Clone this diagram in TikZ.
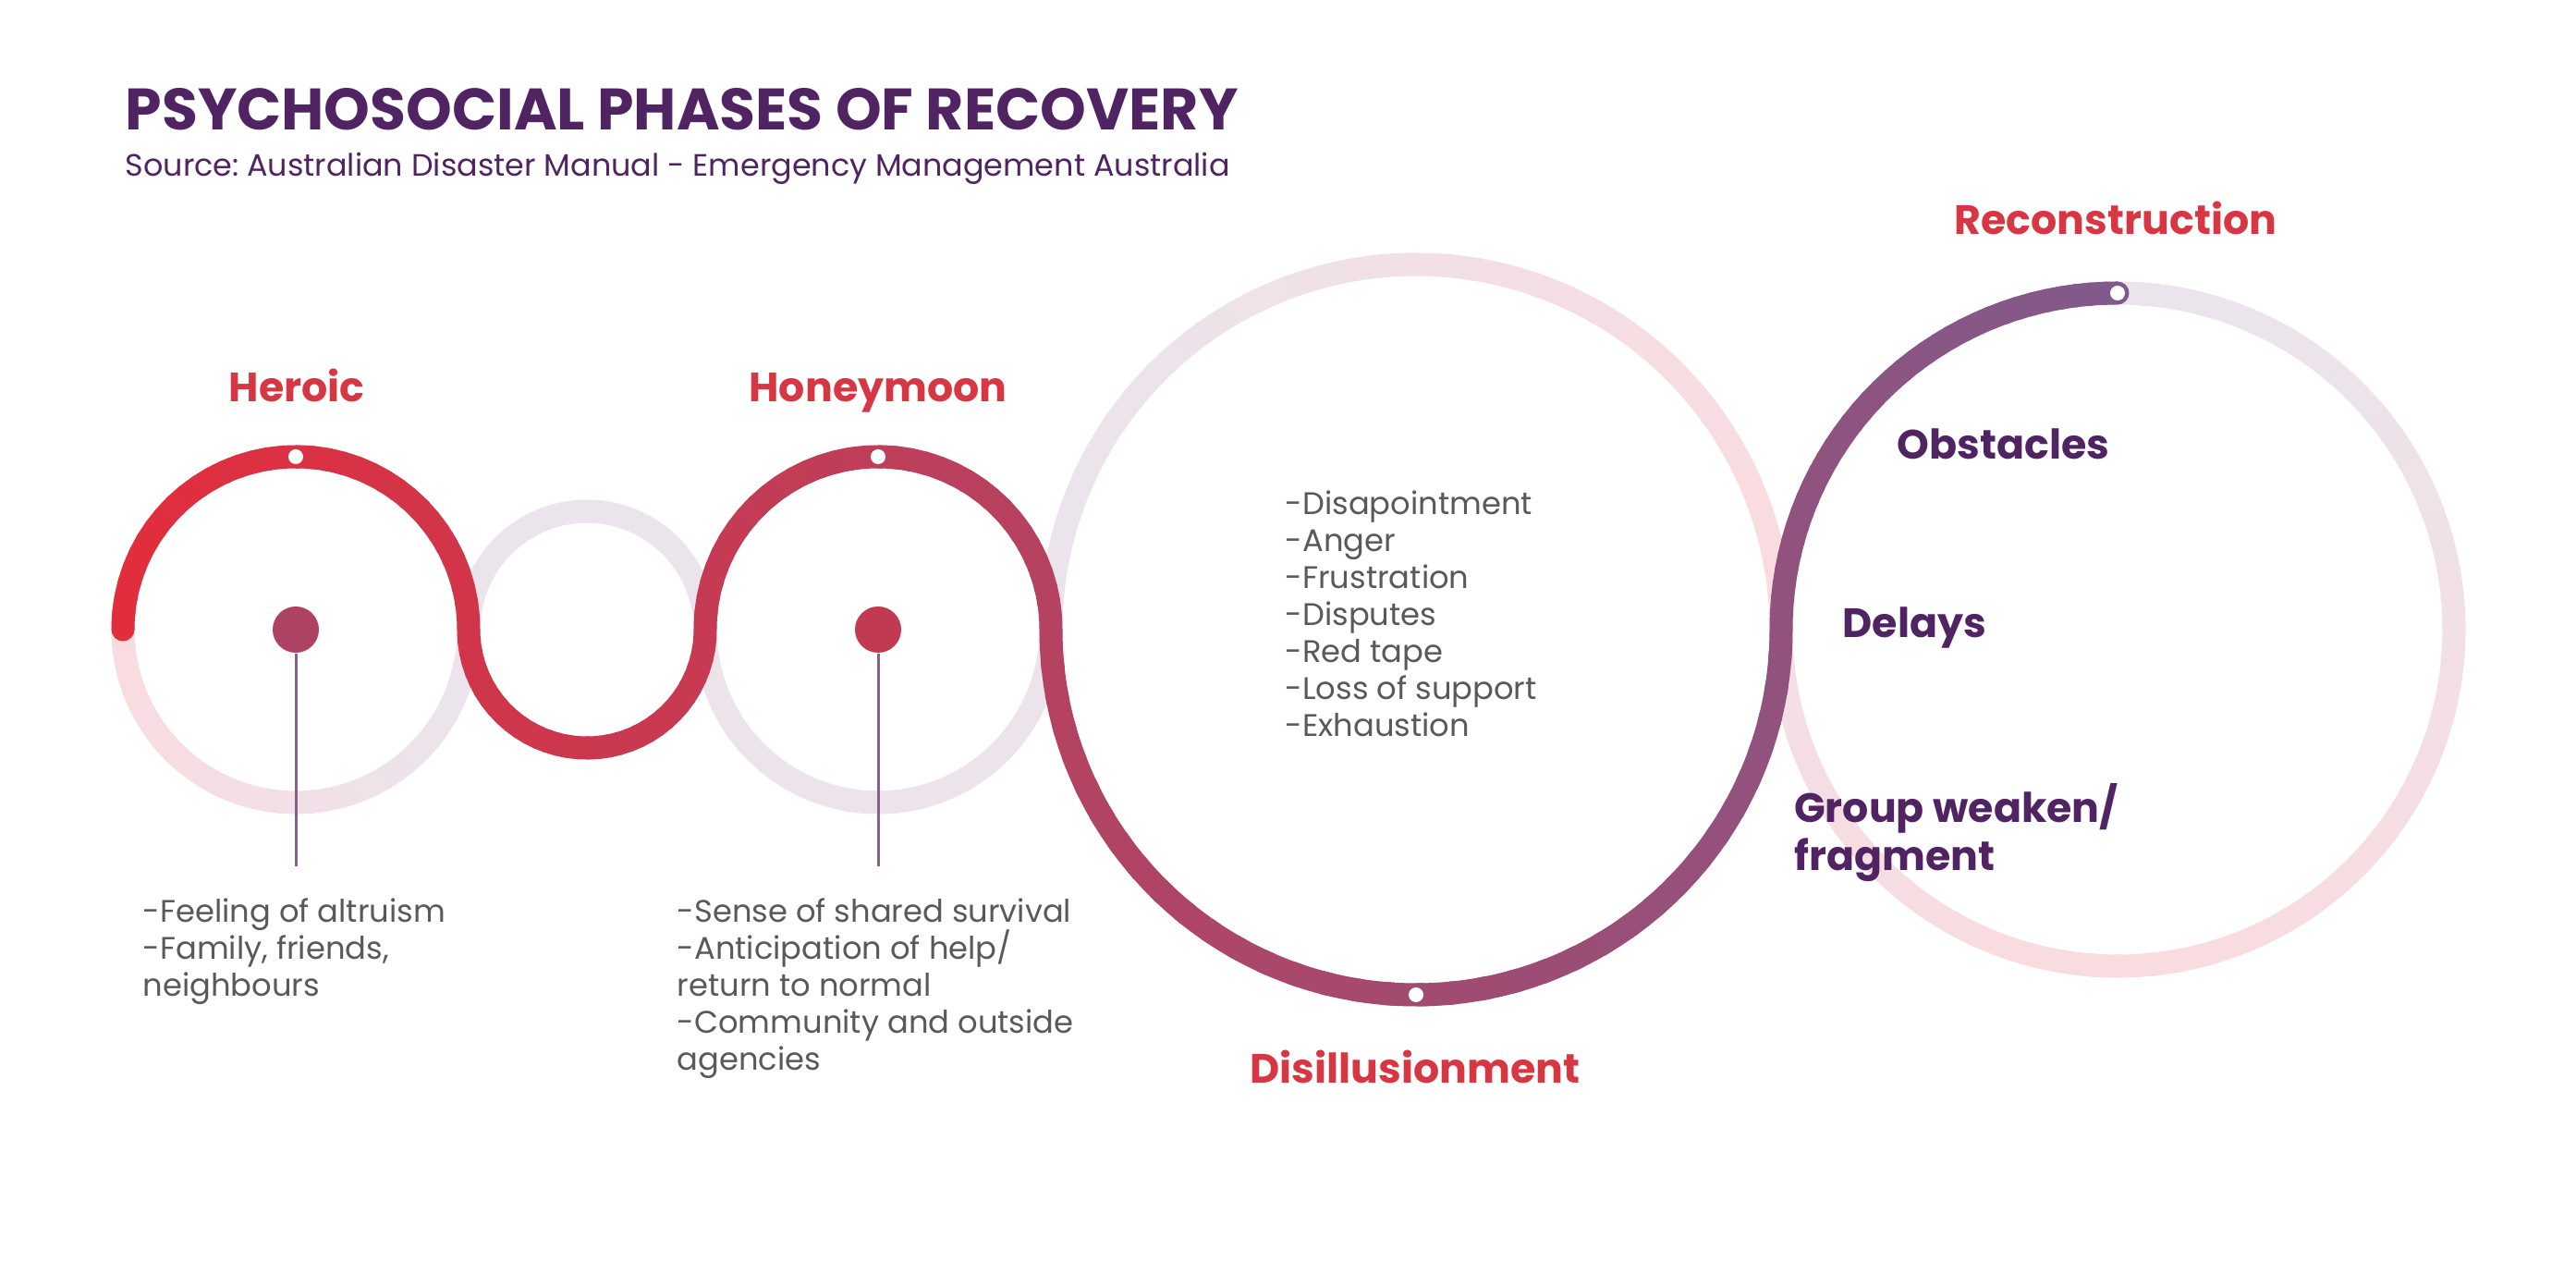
\documentclass[tikz,border=0pt]{standalone}
\usepackage{fontspec}
\setmainfont{Poppins}
\frenchspacing
\definecolor{dred}{RGB}{226,46,60}
\definecolor{dpurple}{RGB}{128,90,140}
\definecolor{lpink}{RGB}{248,220,224}
\definecolor{llav}{RGB}{235,228,236}
\definecolor{titlepurple}{RGB}{80,35,98}
\definecolor{labelred}{RGB}{214,55,66}
\definecolor{textgray}{RGB}{88,89,91}
\definecolor{stemcol}{RGB}{135,96,142}
\definecolor{dotA}{RGB}{174,66,98}
\definecolor{dotB}{RGB}{194,58,82}
\tikzset{
  darkline/.style={line width=0.25cm},
  lightline/.style={line width=0.25cm},
  titletext/.style={font=\fontsize{18}{21}\selectfont\bfseries, text=titlepurple, inner sep=0pt},
  subtext/.style={font=\fontsize{9.5}{12}\selectfont, text=titlepurple, inner sep=0pt},
  phase/.style={font=\fontsize{12.6}{15}\selectfont\bfseries, text=labelred, inner sep=0pt},
  issue/.style={font=\fontsize{12.6}{15}\selectfont\bfseries, text=titlepurple, inner sep=0pt},
  listtext/.style={font=\fontsize{9.6}{11.4}\selectfont, text=textgray, inner sep=0pt},
  centerdot/.style={circle, minimum size=0.5cm, inner sep=0pt},
  whitedot/.style={circle, fill=white, minimum size=0.16cm, inner sep=0pt},
  stemline/.style={draw=stemcol, line width=0.03cm},
}
\newcommand{\darkarc}[5]{%
  \pgfmathsetmacro{\dstep}{(#5-#4)/36}%
  \foreach \k in {1,...,36}{%
    \pgfmathsetmacro{\angA}{#4+(\k-1)*\dstep}%
    \pgfmathsetmacro{\angB}{#4+(\k<36 ? \k+0.3 : \k)*\dstep}%
    \pgfmathsetmacro{\xm}{#1+#3*cos(\angA+0.5*\dstep)}%
    \pgfmathtruncatemacro{\pc}{max(0,min(100,100*(\xm-1.33)/21.58))}%
    \draw[darkline, draw=dpurple!\pc!dred] (#1,#2) ++(\angA:#3) arc[start angle=\angA, end angle=\angB, radius=#3];%
  }%
}
\newcommand{\lightring}[4]{%
  \foreach \k in {1,...,72}{%
    \pgfmathsetmacro{\angA}{(\k-1)*5}%
    \pgfmathsetmacro{\angB}{\k*5+1}%
    \pgfmathsetmacro{\xm}{cos(\angA+2.5)}%
    \pgfmathsetmacro{\ym}{sin(\angA+2.5)}%
    \pgfmathtruncatemacro{\pc}{max(0,min(100,#4))}%
    \draw[lightline, draw=llav!\pc!lpink] (#1,#2) ++(\angA:#3) arc[start angle=\angA, end angle=\angB, radius=#3];%
  }%
}
\begin{document}
\begin{tikzpicture}
\useasboundingbox (0,0) rectangle (27.87,13.65);
\fill[white] (0,0) rectangle (27.87,13.65);

% light rings
\lightring{3.20}{6.84}{1.87}{50+50*\xm}
\lightring{6.35}{6.84}{1.28}{100}
\lightring{9.50}{6.84}{1.87}{90}
\lightring{15.32}{6.84}{3.95}{50-50*\xm}
\lightring{22.91}{6.84}{3.64}{50+50*\ym}

% dark path
\darkarc{3.20}{6.84}{1.87}{180}{0}
\darkarc{6.35}{6.84}{1.28}{180}{360}
\darkarc{9.50}{6.84}{1.87}{180}{0}
\darkarc{15.32}{6.84}{3.95}{180}{360}
\darkarc{22.91}{6.84}{3.64}{180}{90}
\fill[dred] (1.33,6.84) circle[radius=0.125cm];
\fill[dpurple] (22.91,10.48) circle[radius=0.125cm];

% white markers
\node[whitedot] (m1) at (3.20,8.71) {};
\node[whitedot] (m2) at (9.50,8.71) {};
\node[whitedot] (m3) at (15.32,2.89) {};
\node[whitedot] (m4) at (22.91,10.48) {};

% center dots and stems
\coordinate (hend) at (3.20,4.28);
\coordinate (yend) at (9.50,4.28);
\node[centerdot, fill=dotA] (hdot) at (3.20,6.84) {};
\node[centerdot, fill=dotB] (ydot) at (9.50,6.84) {};
\draw[stemline] (hdot.south) -- (hend);
\draw[stemline] (ydot.south) -- (yend);

% title
\node[titletext, anchor=base west] (title) at (1.35,12.24) {PSYCHOSOCIAL PHASES OF RECOVERY};
\node[subtext, anchor=base west] (source) at (1.35,11.74) {Source: Australian Disaster Manual - Emergency Management Australia};

% phase labels
\node[phase, anchor=base] (heroic) at (3.21,9.30) {Heroic};
\node[phase, anchor=base] (honeymoon) at (9.50,9.30) {Honeymoon};
\node[phase, anchor=base] (recon) at (22.89,11.11) {Reconstruction};
\node[phase, anchor=base] (disill) at (15.31,1.93) {Disillusionment};

% reconstruction issues
\node[issue, anchor=base west] (obst) at (20.52,8.68) {Obstacles};
\node[issue, anchor=base west] (delays) at (19.93,6.75) {Delays};
\node[issue, anchor=base west] (group1) at (19.405,4.75) {Group weaken/};
\node[issue, anchor=base west] (group2) at (19.405,4.23) {fragment};

% disillusionment list
\node[listtext, anchor=base west] (d1) at (13.90,8.08) {-Disapointment};
\node[listtext, anchor=base west] (d2) at (13.90,7.68) {-Anger};
\node[listtext, anchor=base west] (d3) at (13.90,7.28) {-Frustration};
\node[listtext, anchor=base west] (d4) at (13.90,6.88) {-Disputes};
\node[listtext, anchor=base west] (d5) at (13.90,6.48) {-Red tape};
\node[listtext, anchor=base west] (d6) at (13.90,6.08) {-Loss of support};
\node[listtext, anchor=base west] (d7) at (13.90,5.68) {-Exhaustion};

% heroic list
\node[listtext, anchor=base west] (h1) at (1.54,3.67) {-Feeling of altruism};
\node[listtext, anchor=base west] (h2) at (1.54,3.27) {-Family, friends,};
\node[listtext, anchor=base west] (h3) at (1.54,2.87) {neighbours};

% honeymoon list
\node[listtext, anchor=base west] (y1) at (7.32,3.67) {-Sense of shared survival};
\node[listtext, anchor=base west] (y2) at (7.32,3.27) {-Anticipation of help/};
\node[listtext, anchor=base west] (y3) at (7.32,2.87) {return to normal};
\node[listtext, anchor=base west] (y4) at (7.32,2.47) {-Community and outside};
\node[listtext, anchor=base west] (y5) at (7.32,2.07) {agencies};
\end{tikzpicture}
\end{document}
